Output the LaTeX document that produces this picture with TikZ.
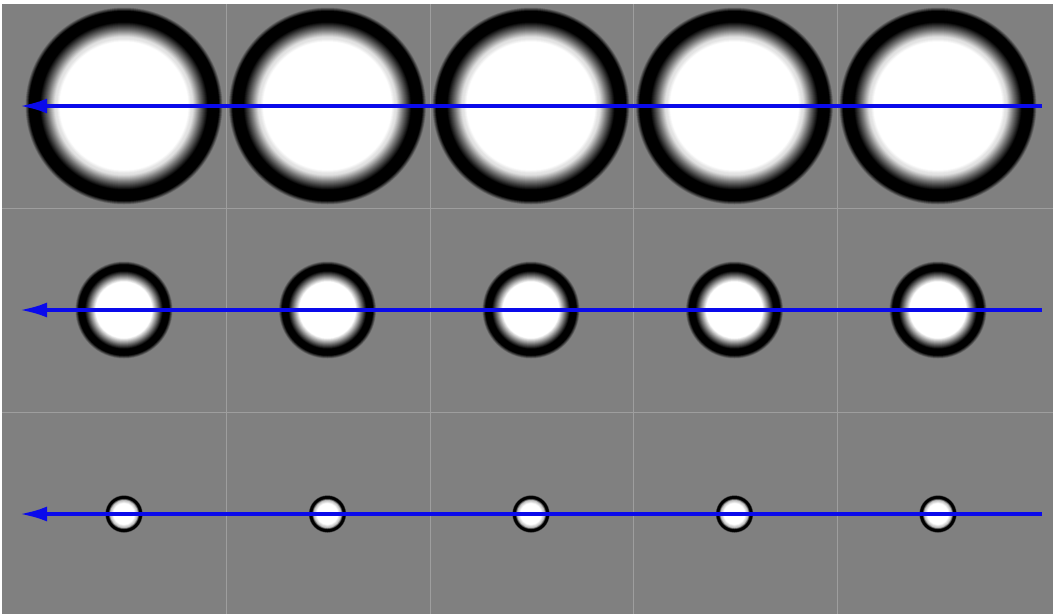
\documentclass[tikz,border=0pt]{standalone}
\usetikzlibrary{arrows.meta}
\tikzset{
  declare function={
    bigpct(\t)=(\t<32.5) ? 0 : ((\t<34) ? (\t-32.5)/1.5*10 : ((\t<35) ? 10+(\t-34)*2 : ((\t<38.5) ? 12+(\t-35)/3.5*43 : ((\t<42.5) ? 55+(\t-38.5)/4*45 : ((\t<48) ? 100 : 100-(\t-48)/2*50)))));
    midpct(\t)=(\t<29) ? 0 : ((\t<34.5) ? (\t-29)/5.5*50 : ((\t<40) ? 50+(\t-34.5)/5.5*50 : ((\t<46.5) ? 100 : 100-(\t-46.5)/3.5*50)));
    smallpct(\t)=(\t<28) ? 0 : ((\t<36) ? (\t-28)/8*25 : ((\t<41) ? 25+(\t-36)/5*75 : ((\t<47) ? 100 : 100-(\t-47)/3*50)));
  },
  bg/.style={fill=black!50, draw=none},
  gridline/.style={draw=black!38, line width=0.8pt},
  flowarrow/.style={draw={rgb,255:red,10;green,10;blue,235}, line width=3.4pt,
    -{Latex[length=27pt,width=15pt]}},
}
\begin{document}
\begin{tikzpicture}[x=1pt,y=-1pt]
\useasboundingbox (0,0) rectangle (1053,614);
\fill[white] (0,0) rectangle (1053,614);
\path[bg] (2,4) rectangle (1053,614);
\foreach \gx in {226.5,430,633.5,837} \draw[gridline] (\gx,4) -- (\gx,614);
\foreach \gy in {208,412} \draw[gridline] (2,\gy) -- (1053,\gy);
\foreach \i/\cx in {1/124,2/327.5,3/531,4/734.5,5/938}{
  \coordinate (b\i) at (\cx,106);
  \coordinate (m\i) at (\cx,310);
  \coordinate (s\i) at (\cx,514);
  \foreach \r in {99,98.5,...,64}{
    \pgfmathsetmacro\p{bigpct(\r*50/99)}
    \fill[black!\p] (b\i) circle (\r pt);
  }
  \fill[white] (b\i) circle (63.5pt);
  \foreach \r in {49,48.5,...,28}{
    \pgfmathsetmacro\p{midpct(\r*50/49)}
    \fill[black!\p] (m\i) circle (\r pt);
  }
  \fill[white] (m\i) circle (27.5pt);
  \foreach \r in {19,18.75,...,10.5}{
    \pgfmathsetmacro\p{smallpct(\r*50/19)}
    \fill[black!\p] (s\i) circle (\r pt);
  }
  \fill[white] (s\i) circle (10.25pt);
}
\foreach \r/\ry in {1/106,2/310,3/514}{
  \coordinate (start\r) at (1042,\ry);
  \coordinate (end\r) at (20,\ry);
  \draw[flowarrow] (start\r) -- (end\r);
}
\end{tikzpicture}
\end{document}
